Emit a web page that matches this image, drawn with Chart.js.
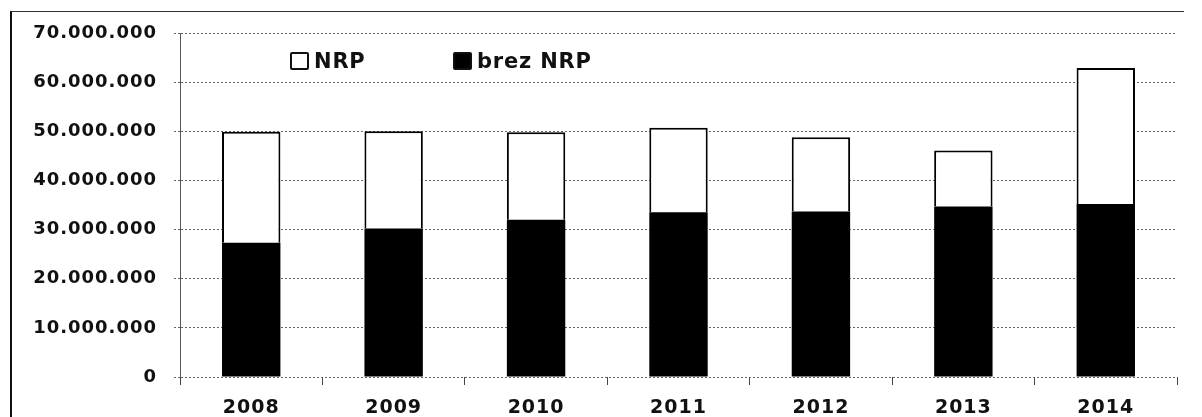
<!DOCTYPE html>
<html>
<head>
<meta charset="utf-8">
<script src="https://cdn.jsdelivr.net/npm/chart.js@4.4.1/dist/chart.umd.min.js"></script>
<style>
  html, body { margin: 0; padding: 0; background: #fff; }
  #wrap { position: relative; width: 1202px; height: 417px; overflow: hidden; }
  #frame { position: absolute; left: 10px; top: 11px; width: 1172px; height: 420px;
           border-left: 2px solid #111; border-top: 1px solid #333; }
  .legend { position: absolute; top: 49px; font-family: "DejaVu Sans", sans-serif;
            font-weight: bold; font-size: 21px; letter-spacing: 0.8px; color: #111;
            display: flex; align-items: center; }
  .legend span.box { display: inline-block; width: 15px; height: 14px; margin-right: 5px;
                     border: 2px solid #111; border-radius: 2px; }
</style>
</head>
<body>
<div id="wrap">
  <div id="frame"></div>
  <canvas id="chart"></canvas>
  <div id="legend"></div>
</div>
<script>
const years = ["2008", "2009", "2010", "2011", "2012", "2013", "2014"];
const brezNRP = [27300000, 30200000, 32000000, 33500000, 33700000, 34700000, 35200000];
const NRP = [22600000, 19800000, 17800000, 17200000, 15100000, 11400000, 27700000];
const yTicks = [0, 10000000, 20000000, 30000000, 40000000, 50000000, 60000000, 70000000];

const fmt = (v) => String(v).replace(/\B(?=(\d{3})+(?!\d))/g, ".");
const yFont = { family: "DejaVu Sans", size: 18, weight: "bold" };
const xFont = { family: "DejaVu Sans", size: 19, weight: "bold" };

// legend as html, placed inside the plot like the original
const legendItems = [
  { label: "NRP", fill: "#fff", left: 290 },
  { label: "brez NRP", fill: "#000", left: 453 },
];
const legendEl = document.getElementById("legend");
legendItems.forEach((it) => {
  const d = document.createElement("div");
  d.className = "legend";
  d.style.left = it.left + "px";
  d.innerHTML = '<span class="box" style="background:' + it.fill + '"></span>' + it.label;
  legendEl.appendChild(d);
});

// original labels are set wide, give the canvas text a bit of spacing
const spacing = {
  id: "spacing",
  beforeUpdate: (chart) => { chart.ctx.letterSpacing = "1px"; },
  beforeDraw: (chart) => { chart.ctx.letterSpacing = "1px"; },
};

const canvas = document.getElementById("chart");
canvas.width = 1202;
canvas.height = 417;

new Chart(canvas.getContext("2d"), {
  type: "bar",
  data: {
    labels: years,
    datasets: [
      {
        label: "brez NRP",
        data: brezNRP,
        backgroundColor: "#000",
        borderWidth: 0,
        barPercentage: 0.41,
        categoryPercentage: 1,
      },
      {
        label: "NRP",
        data: NRP,
        backgroundColor: "#fff",
        borderColor: "#000",
        borderWidth: 2,
        borderSkipped: "bottom",
        barPercentage: 0.41,
        categoryPercentage: 1,
      },
    ],
  },
  plugins: [spacing],
  options: {
    responsive: false,
    animation: false,
    layout: { padding: { left: 10, right: 25, top: 33, bottom: 0 } },
    plugins: { legend: { display: false }, tooltip: { enabled: false } },
    scales: {
      x: {
        stacked: true,
        afterFit: (s) => { s.height = 40; },
        border: { display: false },
        grid: { display: true, drawOnChartArea: false, drawTicks: true, tickLength: 8, color: "#444", offset: true },
        ticks: { color: "#111", font: xFont, padding: 12 },
      },
      y: {
        stacked: true,
        min: 0,
        max: 70000000,
        afterFit: (s) => { s.width = 170; },
        afterBuildTicks: (s) => { s.ticks = yTicks.map((v) => ({ value: v })); },
        border: { display: true, color: "#555", dash: [2, 2] },
        grid: { color: "#666", lineWidth: 1, tickLength: 6, tickBorderDash: [2, 2], borderDash: [2, 3] },
        ticks: { color: "#111", font: yFont, padding: 17, callback: (v) => fmt(v) },
      },
    },
  },
});
</script>
</body>
</html>
